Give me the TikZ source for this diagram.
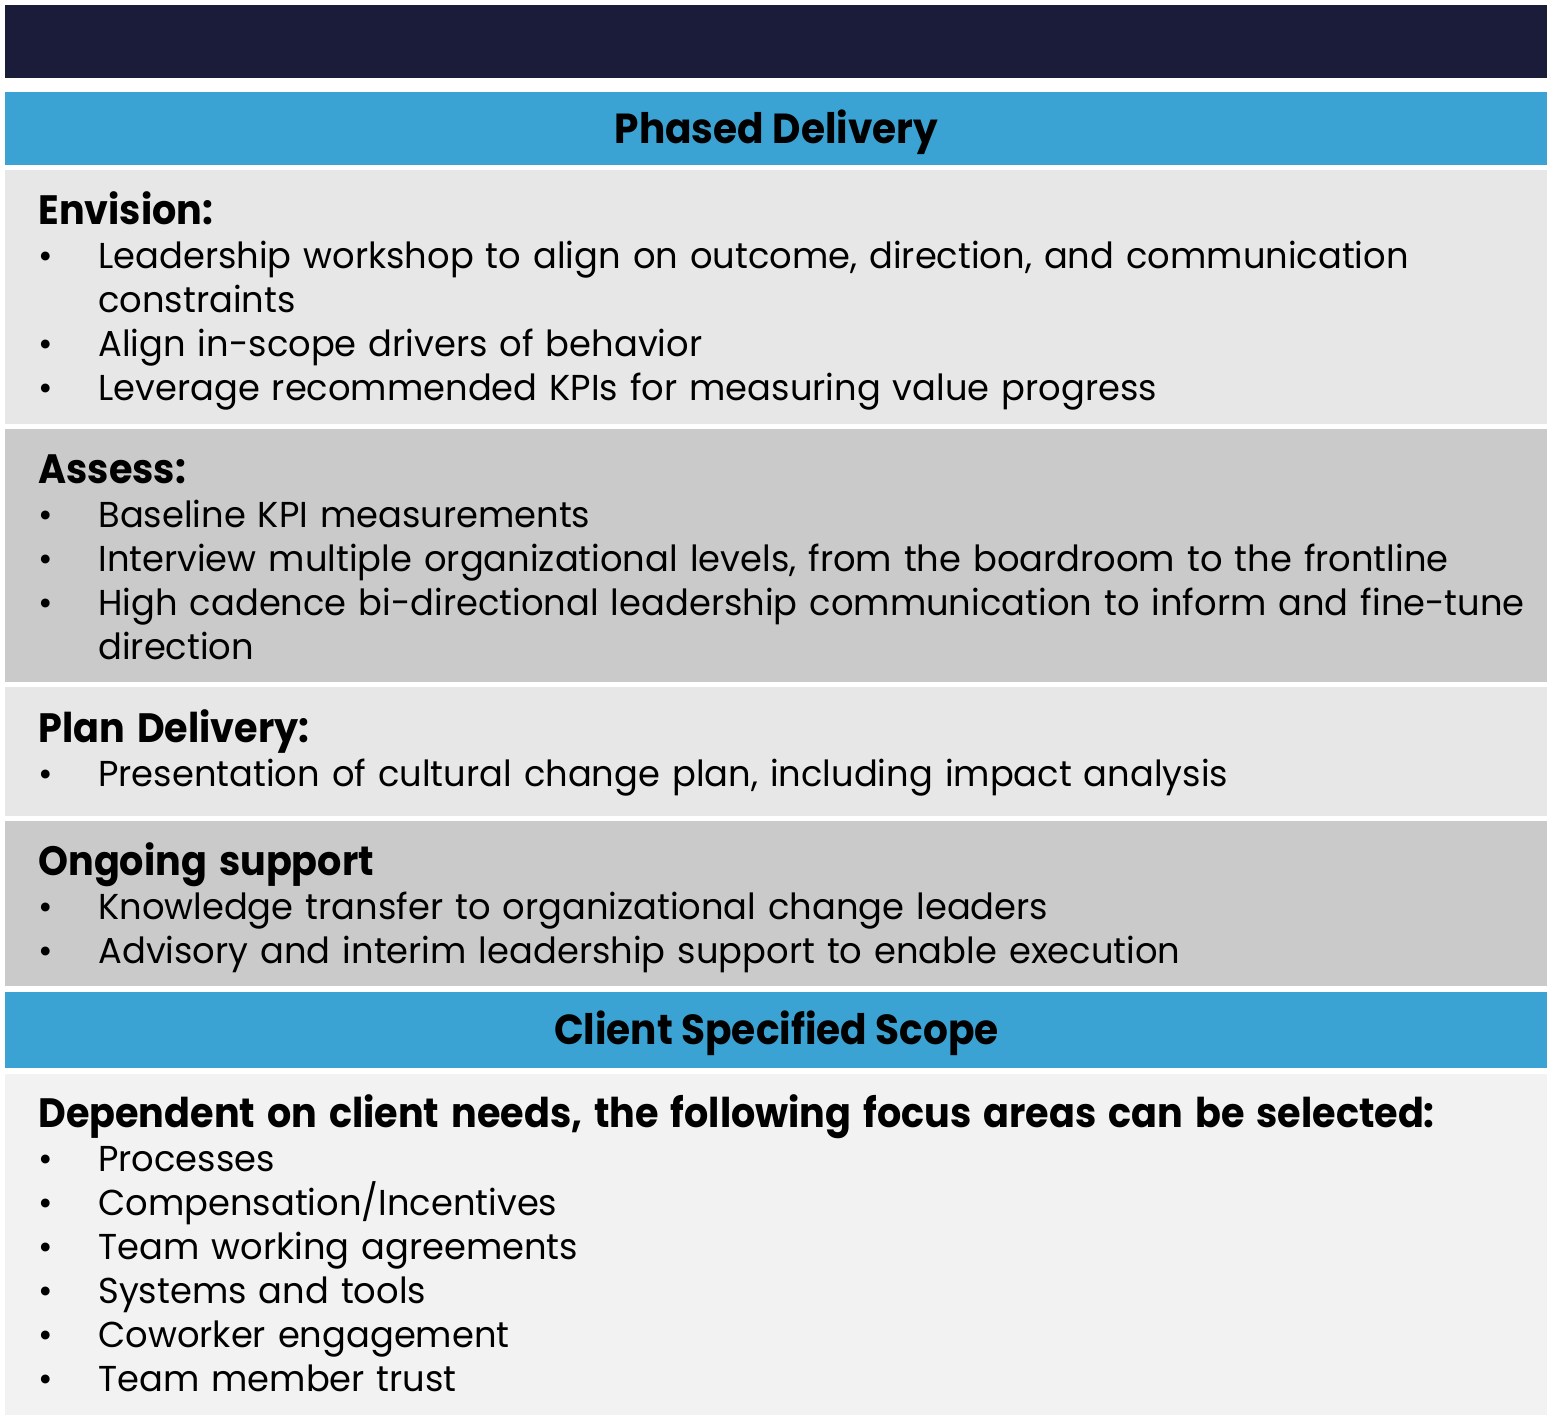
\documentclass[tikz,border=0pt]{standalone}
\usepackage{fontspec}
\setmainfont{Poppins}[FakeStretch=0.98, BoldFeatures={FakeStretch=0.93}]

\definecolor{navyband}{HTML}{1B1C3A}
\definecolor{blueband}{HTML}{3AA3D3}
\definecolor{greyA}{HTML}{E7E7E7}
\definecolor{greyB}{HTML}{CACACA}
\definecolor{greyC}{HTML}{F2F2F2}

% heading and bullet lines inside a phase box
\newcommand{\hd}[1]{\noindent{\bfseries\fontsize{20.5}{22}\selectfont #1}}
\newcommand{\itm}[1]{\par\noindent\hangindent=30pt\hangafter=1\makebox[30pt][l]{\textbullet}#1\par}

\tikzset{
  band/.style={anchor=north west, inner sep=0pt, minimum width=771pt, draw=none},
  bartitle/.style={font=\bfseries\fontsize{21}{22}\selectfont, text height=14.5pt, text depth=0pt},
  phase/.style={anchor=base west, inner sep=0pt, text width=800pt, align=left, font=\fontsize{18}{22}\selectfont}
}

\begin{document}
\begin{tikzpicture}[x=0.5pt, y=-0.5pt]
    \useasboundingbox (0,0) rectangle (1559,1423);

    % Bands
    \node[band, fill=navyband, minimum height=36.5pt] at (5, 5)    (title)   {};
    \node[band, fill=blueband, minimum height=36.5pt, bartitle] at (5, 92)   (phased)  {Phased Delivery};
    \node[band, fill=greyA,    minimum height=127pt]  at (5, 170)  (envision) {};
    \node[band, fill=greyB,    minimum height=126.5pt] at (5, 429) (assess)  {};
    \node[band, fill=greyA,    minimum height=64.5pt] at (5, 687)  (plan)    {};
    \node[band, fill=greyB,    minimum height=82.5pt] at (5, 821)  (ongoing) {};
    \node[band, fill=blueband, minimum height=38pt, bartitle] at (5, 992)   (client)  {Client Specified Scope};
    \node[band, fill=greyC,    minimum height=170.5pt] at (5, 1074) (focus)  {};

    % Texts
    \node[phase] at (38, 225) (envisiontxt) {\hd{Envision:}
        \itm{Leadership workshop to align on outcome, direction, and communication\newline constraints}
        \itm{Align in-scope drivers of behavior}
        \itm{Leverage recommended KPIs for measuring value progress}};
    \node[phase] at (38, 483) (assesstxt) {\hd{Assess:}
        \itm{Baseline KPI measurements}
        \itm{Interview multiple organizational levels, from the boardroom to the frontline}
        \itm{High cadence bi-directional leadership communication to inform and fine-tune\newline direction}};
    \node[phase] at (38, 742) (plantxt) {\hd{Plan Delivery:}
        \itm{Presentation of cultural change plan, including impact analysis}};
    \node[phase] at (38, 875) (ongoingtxt) {\hd{Ongoing support}
        \itm{Knowledge transfer to organizational change leaders}
        \itm{Advisory and interim leadership support to enable execution}};
    \node[phase] at (38, 1127) (focustxt) {\hd{Dependent on client needs, the following focus areas can be selected:}
        \itm{Processes}
        \itm{Compensation/Incentives}
        \itm{Team working agreements}
        \itm{Systems and tools}
        \itm{Coworker engagement}
        \itm{Team member trust}};
\end{tikzpicture}
\end{document}
